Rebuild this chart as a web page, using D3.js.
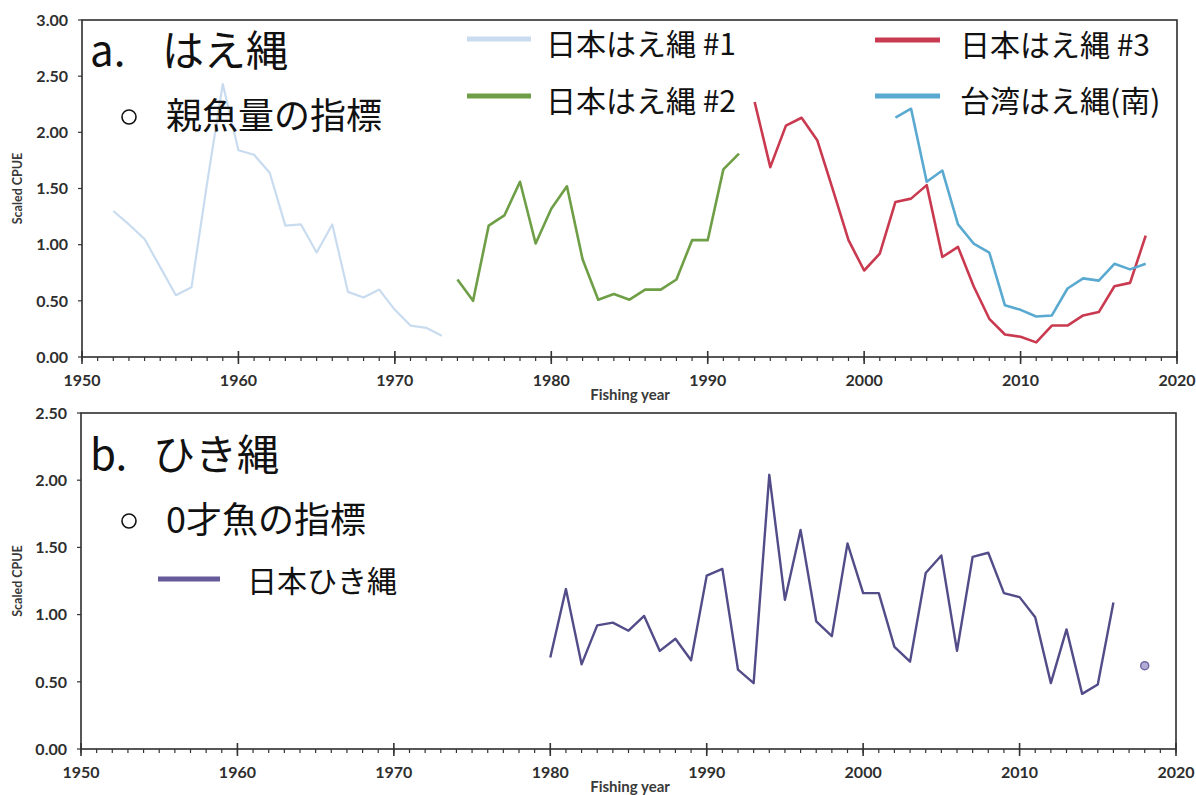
<!DOCTYPE html>
<html>
<head>
<meta charset="utf-8">
<script src="https://cdn.jsdelivr.net/npm/d3@7"></script>
<style>
  html, body { margin: 0; padding: 0; background: #ffffff; }
  svg { display: block; }
  .tick-label { font-family: Lato, "Open Sans", sans-serif; font-weight: 700; font-size: 16px; fill: #2e2e2e; }
  .axis-title { font-family: Lato, "Open Sans", sans-serif; font-weight: 700; fill: #3a3a3a; }
  .jp { font-family: "Noto Sans CJK JP", sans-serif; fill: #111; }
</style>
</head>
<body>
<svg id="chart" width="1196" height="795"></svg>
<script>
// ---- Longline (はえ縄) CPUE series ----
const jpLL1Start = 1952;
const jpLL1 = [1.30, 1.18, 1.05, 0.80, 0.55, 0.62, 1.55, 2.43, 1.84, 1.80, 1.64, 1.17, 1.18, 0.93, 1.18, 0.58, 0.53, 0.60, 0.42, 0.28, 0.26, 0.19];

const jpLL2Start = 1974;
const jpLL2 = [0.69, 0.50, 1.17, 1.26, 1.56, 1.01, 1.32, 1.52, 0.87, 0.51, 0.56, 0.51, 0.60, 0.60, 0.69, 1.04, 1.04, 1.67, 1.81];

const jpLL3Start = 1993;
const jpLL3 = [2.27, 1.69, 2.06, 2.13, 1.93, 1.49, 1.04, 0.77, 0.92, 1.38, 1.41, 1.53, 0.89, 0.98, 0.63, 0.34, 0.20, 0.18, 0.13, 0.28, 0.28, 0.37, 0.40, 0.63, 0.66, 1.08];

const twLLStart = 2002;
const twLL = [2.13, 2.21, 1.56, 1.66, 1.18, 1.01, 0.93, 0.46, 0.42, 0.36, 0.37, 0.61, 0.70, 0.68, 0.83, 0.78, 0.83];

// ---- Troll (ひき縄) CPUE series ----
const jpTrollStart = 1980;
const jpTroll = [0.68, 1.19, 0.63, 0.92, 0.94, 0.88, 0.99, 0.73, 0.82, 0.66, 1.29, 1.34, 0.59, 0.49, 2.04, 1.11, 1.63, 0.95, 0.84, 1.53, 1.16, 1.16, 0.76, 0.65, 1.31, 1.44, 0.73, 1.43, 1.46, 1.16, 1.13, 0.98, 0.49, 0.89, 0.41, 0.48, 1.09];
const jpTrollExtra = [{ year: 2018, value: 0.62 }];

// ---- Axis settings ----
const xDomain = [1950, 2020];
const xMajorTicks = [1950, 1960, 1970, 1980, 1990, 2000, 2010, 2020];
const yTicksTop = [0, 0.5, 1.0, 1.5, 2.0, 2.5, 3.0];
const yTicksBottom = [0, 0.5, 1.0, 1.5, 2.0, 2.5];

// ---- Legend entries ----
const legendTop = [
  { label: "日本はえ縄 #1", color: "#c9dcef" },
  { label: "日本はえ縄 #2", color: "#6e9e45" },
  { label: "日本はえ縄 #3", color: "#c93a50" },
  { label: "台湾はえ縄(南)", color: "#5aa9d0" }
];
const legendBottom = [{ label: "日本ひき縄", color: "#675a9a" }];

const toPoints = (start, vals) => vals.map((v, i) => ({ year: start + i, value: v }));

const svg = d3.select("#chart");

function panel(cfg) {
  const x = d3.scaleLinear().domain(xDomain).range([cfg.left, cfg.right]);
  const y = d3.scaleLinear().domain([0, cfg.yMax]).range([cfg.bottom, cfg.top]);
  const g = svg.append("g");

  // frame
  g.append("rect")
    .attr("x", cfg.left).attr("y", cfg.top)
    .attr("width", cfg.right - cfg.left).attr("height", cfg.bottom - cfg.top)
    .attr("fill", "none").attr("stroke", "#2e2e2e").attr("stroke-width", 1.6);

  // x axis: yearly minor ticks, decade ticks crossing the axis
  const minor = d3.range(xDomain[0], xDomain[1] + 1);
  g.selectAll(".xminor").data(minor).join("line")
    .attr("x1", d => x(d)).attr("x2", d => x(d))
    .attr("y1", cfg.bottom).attr("y2", cfg.bottom + 4)
    .attr("stroke", "#333").attr("stroke-width", 1.2);
  g.selectAll(".xmajor").data(xMajorTicks).join("line")
    .attr("x1", d => x(d)).attr("x2", d => x(d))
    .attr("y1", cfg.bottom - 6).attr("y2", cfg.bottom + 7)
    .attr("stroke", "#333").attr("stroke-width", 1.6);
  g.selectAll(".xlab").data(xMajorTicks).join("text")
    .attr("class", "tick-label")
    .attr("x", d => x(d)).attr("y", cfg.bottom + 29)
    .attr("text-anchor", "middle")
    .text(d => d);

  // y axis ticks
  g.selectAll(".ytick").data(cfg.yTicks).join("line")
    .attr("x1", cfg.left - 4).attr("x2", cfg.left)
    .attr("y1", d => y(d)).attr("y2", d => y(d))
    .attr("stroke", "#333").attr("stroke-width", 1.2);
  g.selectAll(".ylab").data(cfg.yTicks).join("text")
    .attr("class", "tick-label")
    .attr("x", cfg.left - 14).attr("y", d => y(d))
    .attr("dy", "0.36em")
    .attr("text-anchor", "end")
    .text(d => d3.format(".2f")(d));

  // axis titles
  g.append("text").attr("class", "axis-title")
    .attr("transform", `translate(22,${(cfg.top + cfg.bottom) / 2}) rotate(-90)`)
    .attr("text-anchor", "middle").style("font-size", "12.5px")
    .text("Scaled CPUE");
  g.append("text").attr("class", "axis-title")
    .attr("x", cfg.xTitleX).attr("y", cfg.bottom + 43)
    .attr("text-anchor", "middle").style("font-size", "15px")
    .text("Fishing year");

  // series lines
  const line = d3.line().x(d => x(d.year)).y(d => y(d.value));
  cfg.series.forEach(s => {
    g.append("path")
      .datum(s.data)
      .attr("d", line)
      .attr("fill", "none")
      .attr("stroke", s.color)
      .attr("stroke-width", s.width)
      .attr("stroke-linejoin", "round");
  });

  return { g, x, y };
}

// ---- Panel a: longline ----
const panelA = panel({
  left: 82, right: 1177, top: 20, bottom: 357, yMax: 3.0, yTicks: yTicksTop, xTitleX: 630,
  series: [
    { data: toPoints(jpLL1Start, jpLL1), color: legendTop[0].color, width: 2.2 },
    { data: toPoints(jpLL2Start, jpLL2), color: legendTop[1].color, width: 2.6 },
    { data: toPoints(jpLL3Start, jpLL3), color: legendTop[2].color, width: 2.6 },
    { data: toPoints(twLLStart, twLL), color: legendTop[3].color, width: 2.6 }
  ]
});

// ---- Panel b: troll ----
const panelB = panel({
  left: 81, right: 1176, top: 413, bottom: 749, yMax: 2.5, yTicks: yTicksBottom, xTitleX: 630,
  series: [
    { data: toPoints(jpTrollStart, jpTroll), color: "#524c88", width: 2.4 }
  ]
});
panelB.g.selectAll(".extra").data(jpTrollExtra).join("circle")
  .attr("cx", d => panelB.x(d.year)).attr("cy", d => panelB.y(d.value))
  .attr("r", 4).attr("fill", "#b3add6").attr("stroke", "#6f68a6").attr("stroke-width", 1.5);

// ---- Panel headings ----
const headings = [
  { letter: "a.", name: "はえ縄", y: 66, sub: "親魚量の指標", subY: 129 },
  { letter: "b.", name: "ひき縄", y: 470, sub: "0才魚の指標", subY: 533 }
];
headings.forEach(h => {
  svg.append("text").attr("class", "jp").attr("x", 90).attr("y", h.y)
    .style("font-size", "42px").text(h.letter);
  svg.append("text").attr("class", "jp").attr("x", h.letter === "a." ? 162 : 153).attr("y", h.y)
    .style("font-size", "42px").text(h.name);
  svg.append("circle").attr("cx", 129).attr("cy", h.subY - 12).attr("r", 7)
    .attr("fill", "none").attr("stroke", "#111").attr("stroke-width", 1.6);
  svg.append("text").attr("class", "jp").attr("x", 166).attr("y", h.subY)
    .style("font-size", "36px").text(h.sub);
});

// ---- Legends ----
const legPos = [
  { lx1: 467, lx2: 531, tx: 546, y: 39 },
  { lx1: 467, lx2: 531, tx: 546, y: 96 },
  { lx1: 875, lx2: 940, tx: 960, y: 40 },
  { lx1: 875, lx2: 940, tx: 960, y: 96 }
];
legendTop.forEach((d, i) => {
  const p = legPos[i];
  svg.append("line").attr("x1", p.lx1).attr("x2", p.lx2).attr("y1", p.y).attr("y2", p.y)
    .attr("stroke", d.color).attr("stroke-width", 5);
  svg.append("text").attr("class", "jp").attr("x", p.tx).attr("y", p.y + 16)
    .style("font-size", "30px").text(d.label);
});
legendBottom.forEach(d => {
  svg.append("line").attr("x1", 158).attr("x2", 220).attr("y1", 579).attr("y2", 579)
    .attr("stroke", d.color).attr("stroke-width", 5);
  svg.append("text").attr("class", "jp").attr("x", 247).attr("y", 592)
    .style("font-size", "30px").text(d.label);
});
</script>
</body>
</html>
